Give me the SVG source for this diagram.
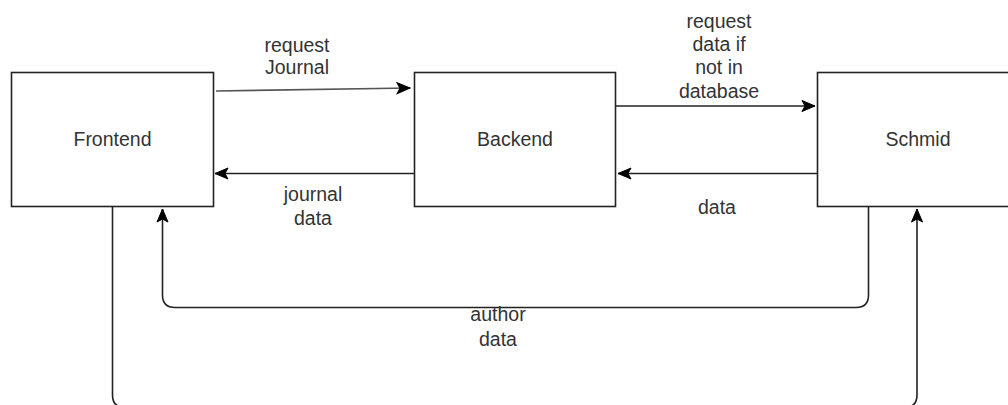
<svg xmlns="http://www.w3.org/2000/svg" width="1008" height="405" viewBox="0 0 1008 405">
<style>
.box{fill:#fff;stroke:#222;stroke-width:1.6}
.lbl{font-family:"Liberation Sans",Arial,sans-serif;font-size:19.5px;fill:#333;text-anchor:middle}
.edge{fill:none;stroke:#222;stroke-width:1.6}
</style>
<defs>
<marker id="arr" markerUnits="userSpaceOnUse" markerWidth="16" markerHeight="14" viewBox="-14 -7 16 14" refX="0" refY="0" orient="auto">
<path d="M0,0 L-13,-5.5 L-10,0 L-13,5.5 Z" fill="#000" stroke="#000" stroke-width="1"/>
</marker>
</defs>
<rect width="1008" height="405" fill="#fff"/>
<g id="connectors">
<line class="edge" x1="216" y1="91" x2="410" y2="88" style="stroke:#555" marker-end="url(#arr)"/>
<line class="edge" x1="414" y1="173.5" x2="215" y2="173.5" marker-end="url(#arr)"/>
<line class="edge" x1="616" y1="106" x2="815" y2="106" marker-end="url(#arr)"/>
<line class="edge" x1="818" y1="173.5" x2="618" y2="173.5" marker-end="url(#arr)"/>
<path class="edge" d="M868.5,207 V295 Q868.5,307.5 856,307.5 H175 Q162.5,307.5 162.5,295 V209" marker-end="url(#arr)"/>
<path class="edge" d="M112.5,207 V395 Q112.5,407.5 125,407.5 H904.5 Q917,407.5 917,395 V209" marker-end="url(#arr)"/>
<text class="lbl" x="297" y="52">request</text>
<text class="lbl" x="297" y="74">Journal</text>
<text class="lbl" x="313" y="201">journal</text>
<text class="lbl" x="313" y="225">data</text>
<text class="lbl" x="719" y="28">request</text>
<text class="lbl" x="719" y="51">data if</text>
<text class="lbl" x="719" y="74">not in</text>
<text class="lbl" x="719" y="98">database</text>
<text class="lbl" x="717" y="214">data</text>
<text class="lbl" x="498" y="321">author</text>
<text class="lbl" x="498" y="346">data</text>
</g>
<g id="frontend">
<rect class="box" x="11.5" y="72.5" width="202" height="134"/>
<text class="lbl" x="112.5" y="146">Frontend</text>
</g>
<g id="backend">
<rect class="box" x="414.5" y="72.5" width="201" height="134"/>
<text class="lbl" x="515" y="146">Backend</text>
</g>
<g id="schmid">
<rect class="box" x="817.5" y="72.5" width="201" height="134"/>
<text class="lbl" x="918" y="146">Schmid</text>
</g>
</svg>
